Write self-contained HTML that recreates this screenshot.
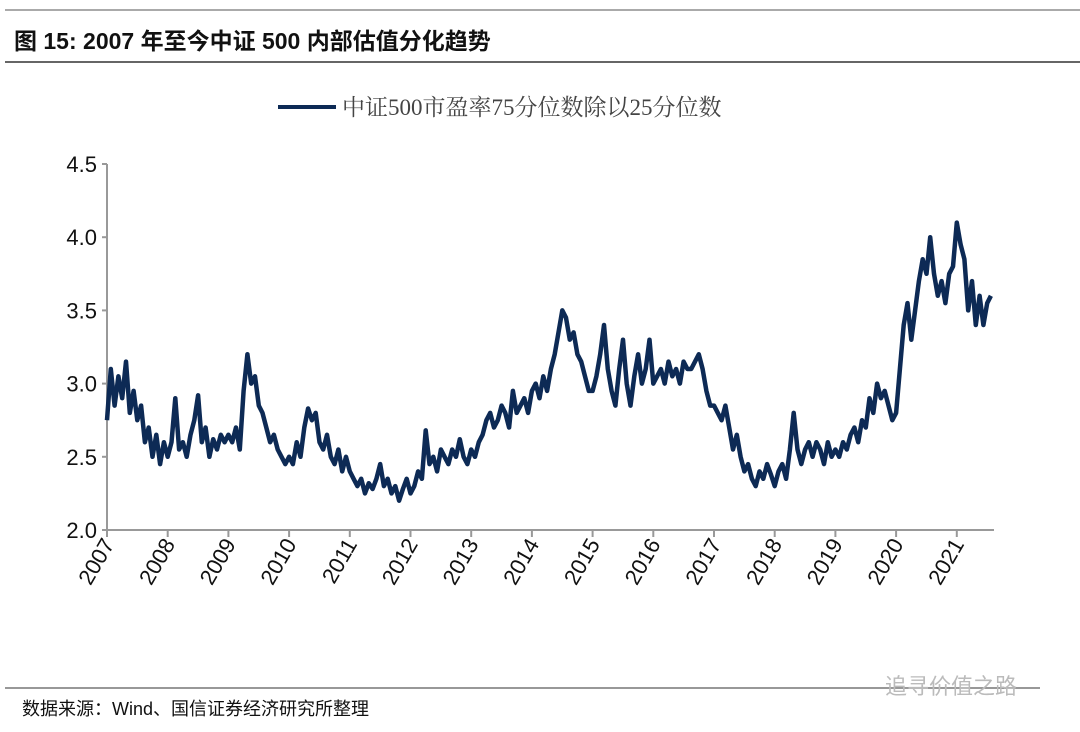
<!DOCTYPE html>
<html><head><meta charset="utf-8"><style>
body{margin:0;background:#fff;width:1080px;height:732px;overflow:hidden;font-family:"Liberation Sans","Noto Sans CJK SC",sans-serif}
svg{position:absolute;left:0;top:0}
</style></head><body>
<svg width="1080" height="732">
<line x1="5" y1="10" x2="1080" y2="10" stroke="#aaa" stroke-width="2"/>
<text x="14" y="49" font-size="23" font-weight="bold" fill="#111" font-family="Liberation Sans, Noto Sans CJK SC, sans-serif">图 15:  2007 年至今中证 500 内部估值分化趋势</text>
<line x1="5" y1="62" x2="1080" y2="62" stroke="#333" stroke-width="1.5"/>
<line x1="278" y1="107" x2="336" y2="107" stroke="#0d2a55" stroke-width="4"/>
<text x="342" y="115" font-size="23" fill="#444" font-family="Liberation Serif, Noto Serif CJK SC, serif">中证500市盈率75分位数除以25分位数</text>
<g id="axes"></g>
<path id="series" fill="none" stroke="#0d2a55" stroke-width="4.5" stroke-linejoin="round"/>
<line x1="5" y1="688" x2="1040" y2="688" stroke="#777" stroke-width="1.5"/>
<text x="22" y="715" font-size="18" fill="#111">数据来源：Wind、国信证券经济研究所整理</text>
<text x="885" y="694" font-size="22" fill="#bbb">追寻价值之路</text>
</svg>
<script>
const yTicks=[2.0,2.5,3.0,3.5,4.0,4.5];
const years=[2007,2008,2009,2010,2011,2012,2013,2014,2015,2016,2017,2018,2019,2020,2021];
const v2007=[2.75,3.1,2.85,3.05,2.9,3.15,2.8,2.95,2.75,2.85,2.6,2.7,2.5,2.65,2.45,2.6];
const v2008=[2.5,2.6,2.9,2.55,2.6,2.5,2.65,2.75,2.92,2.6,2.7,2.5,2.62,2.55,2.65,2.6];
const v2009=[2.65,2.6,2.7,2.55,2.95,3.2,3.0,3.05,2.85,2.8,2.7,2.6,2.65,2.55,2.5,2.45];
const v2010=[2.5,2.45,2.6,2.5,2.7,2.83,2.75,2.8,2.6,2.55,2.65,2.5,2.45,2.55,2.4,2.5];
const v2011=[2.4,2.35,2.3,2.35,2.25,2.32,2.28,2.35,2.45,2.3,2.35,2.25,2.3,2.2,2.28,2.35];
const v2012=[2.25,2.3,2.4,2.35,2.68,2.45,2.5,2.4,2.55,2.5,2.45,2.55,2.5,2.62,2.5,2.45];
const v2013=[2.55,2.5,2.6,2.65,2.75,2.8,2.7,2.75,2.85,2.8,2.7,2.95,2.8,2.85,2.9,2.8];
const v2014=[2.95,3.0,2.9,3.05,2.95,3.1,3.2,3.35,3.5,3.45,3.3,3.35,3.2,3.15,3.05,2.95];
const v2015=[2.95,3.05,3.2,3.4,3.1,2.95,2.85,3.1,3.3,3.0,2.85,3.05,3.2,3.0,3.1,3.3];
const v2016=[3.0,3.05,3.1,3.0,3.15,3.05,3.1,3.0,3.15,3.1,3.1,3.15,3.2,3.1,2.95,2.85];
const v2017=[2.85,2.8,2.75,2.85,2.7,2.55,2.65,2.5,2.4,2.45,2.35,2.3,2.4,2.35,2.45,2.38];
const v2018=[2.3,2.4,2.45,2.35,2.55,2.8,2.55,2.45,2.55,2.6,2.5,2.6,2.55,2.45,2.6,2.5];
const v2019=[2.55,2.5,2.6,2.55,2.65,2.7,2.6,2.75,2.7,2.9,2.8,3.0,2.9,2.95,2.85,2.75];
const v2020=[2.8,3.1,3.4,3.55,3.3,3.5,3.7,3.85,3.75,4.0,3.75,3.6,3.7,3.55,3.75,3.8];
const v2021=[4.1,3.95,3.85,3.5,3.7,3.4,3.6,3.4,3.55,3.6];
const series=[v2007,v2008,v2009,v2010,v2011,v2012,v2013,v2014,v2015,v2016,v2017,v2018,v2019,v2020,v2021];
const X0=107,YW=60.7,Y0=530,YT=164;
const xs=t=>X0+(t-2007)*YW;
const ys=v=>Y0-(v-2)/(2.5)*(Y0-YT);
const NS='http://www.w3.org/2000/svg';
const g=document.getElementById('axes');
function mk(tag,attrs,txt){const e=document.createElementNS(NS,tag);for(const k in attrs)e.setAttribute(k,attrs[k]);if(txt!=null)e.textContent=txt;g.appendChild(e);return e;}
let ya=mk('line',{x1:X0,y1:YT,x2:X0,y2:Y0,stroke:'#999','stroke-width':2});


let xa=mk('line',{x1:X0,y1:Y0,x2:994,y2:Y0,stroke:'#999','stroke-width':2});


yTicks.forEach(v=>{
 const y=ys(v);
 let t=mk('line',{x1:X0-5,y1:y,x2:X0,y2:y,stroke:'#999','stroke-width':2});
 
 
 let l=mk('text',{x:97,y:y+8,'font-size':22,'text-anchor':'end',fill:'#111'},v.toFixed(1));
 
 
});
years.forEach(yr=>{
 const x=xs(yr);
 let t=mk('line',{x1:x,y1:Y0,x2:x,y2:Y0+7,stroke:'#999','stroke-width':2});
 
 
 let l=mk('text',{x:x+8,y:Y0+14,'font-size':22,'text-anchor':'end',fill:'#111',transform:`rotate(-60 ${x+8} ${Y0+14})`},String(yr));
 
 
});
let d='';
series.forEach((arr,i)=>{arr.forEach((v,j)=>{const t=years[i]+j/16;d+=(d?'L':'M')+xs(t).toFixed(1)+','+ys(v).toFixed(1);});});
document.getElementById('series').setAttribute('d',d);
</script>
</body></html>
